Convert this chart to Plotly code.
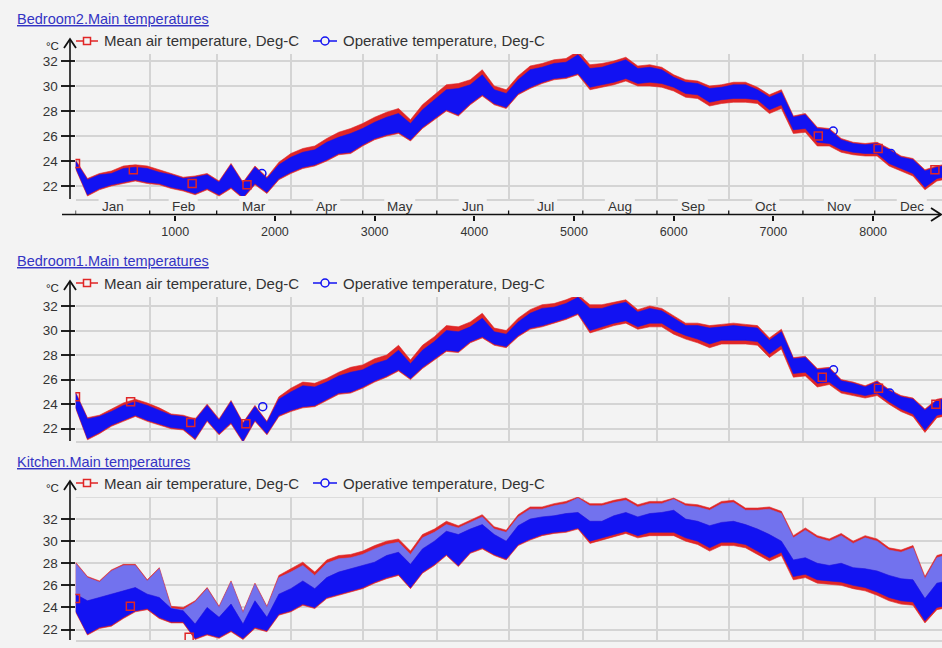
import plotly.graph_objects as go

# ---------------------------------------------------------------------------
# Hourly simulation results, summarised every 120 h as the envelope of the
# daily swing (upper / lower values) for each zone.
# ---------------------------------------------------------------------------
HOURS = list(range(0, 8761, 120))

MONTHS = ["Jan", "Feb", "Mar", "Apr", "May", "Jun",
          "Jul", "Aug", "Sep", "Oct", "Nov", "Dec"]
MONTH_START = [0, 744, 1416, 2160, 2880, 3624, 4344, 5088, 5832, 6552, 7296, 8016]
MONTH_MID = [372, 1080, 1788, 2520, 3252, 3984, 4716, 5460, 6192, 6924, 7656, 8388]
HOUR_TICKS = [1000, 2000, 3000, 4000, 5000, 6000, 7000, 8000]

# Bedroom2
b2_op_hi = [24.0, 22.5, 22.9, 23.0, 23.4, 23.5, 23.4, 23.1, 22.9, 22.6,
            22.7, 22.9, 22.3, 23.7, 22.2, 23.5, 22.6, 23.7, 24.3, 24.7,
            24.9, 25.5, 25.9, 26.2, 26.6, 27.1, 27.5, 27.8, 27.0, 28.1,
            28.9, 29.7, 29.8, 30.1, 30.9, 29.7, 29.4, 30.5, 31.3, 31.5,
            31.8, 31.9, 32.5, 31.4, 31.5, 31.8, 32.1, 31.4, 31.5, 31.3,
            30.7, 30.3, 30.2, 29.8, 29.9, 30.1, 30.1, 29.7, 29.1, 29.5,
            27.5, 27.7, 26.6, 26.5, 25.7, 25.4, 25.3, 25.4, 24.9, 24.3,
            24.1, 23.2, 23.5, 23.7]
b2_op_lo = [23.5, 21.3, 21.8, 22.1, 22.3, 22.5, 22.3, 22.2, 21.9, 21.7,
            21.4, 21.8, 21.3, 21.9, 21.1, 22.2, 21.5, 22.6, 23.1, 23.5,
            23.7, 24.1, 24.6, 24.7, 25.3, 25.8, 26.1, 26.3, 25.7, 26.7,
            27.4, 28.1, 27.7, 28.6, 29.3, 28.6, 28.3, 29.4, 29.9, 30.3,
            30.6, 30.7, 31.0, 29.9, 30.1, 30.3, 30.6, 30.2, 30.3, 30.2,
            29.9, 29.4, 29.3, 28.7, 28.9, 29.0, 29.0, 28.9, 28.1, 28.5,
            26.5, 26.6, 25.5, 25.4, 24.9, 24.7, 24.6, 24.6, 23.8, 23.4,
            23.0, 21.9, 22.6, 22.8]
b2_air_hi = [24.1, 22.6, 23.0, 23.2, 23.6, 23.7, 23.6, 23.3, 23.0, 22.7,
             22.8, 23.0, 22.4, 23.8, 22.3, 23.6, 22.7, 23.9, 24.6, 25.0,
             25.2, 25.8, 26.3, 26.6, 27.0, 27.5, 27.9, 28.2, 27.3, 28.5,
             29.3, 30.1, 30.2, 30.5, 31.3, 30.0, 29.7, 30.8, 31.6, 31.8,
             32.1, 32.2, 32.8, 31.7, 31.8, 32.0, 32.3, 31.6, 31.7, 31.5,
             30.9, 30.5, 30.4, 30.0, 30.1, 30.3, 30.3, 29.9, 29.3, 29.7,
             27.6, 27.8, 26.7, 26.6, 25.8, 25.5, 25.4, 25.5, 25.0, 24.4,
             24.2, 23.3, 23.6, 23.8]
b2_air_lo = [23.4, 21.2, 21.7, 22.0, 22.2, 22.4, 22.2, 22.1, 21.8, 21.6,
             21.3, 21.7, 21.2, 21.8, 21.0, 22.1, 21.4, 22.5, 23.0, 23.4,
             23.6, 24.0, 24.5, 24.6, 25.2, 25.7, 26.0, 26.2, 25.6, 26.6,
             27.3, 28.0, 27.6, 28.5, 29.2, 28.5, 28.2, 29.3, 29.8, 30.2,
             30.5, 30.6, 30.9, 29.7, 29.9, 30.1, 30.4, 30.0, 30.0, 29.9,
             29.6, 29.1, 29.0, 28.4, 28.6, 28.7, 28.7, 28.6, 27.8, 28.2,
             26.2, 26.3, 25.2, 25.2, 24.7, 24.5, 24.4, 24.4, 23.6, 23.2,
             22.8, 21.7, 22.4, 22.6]

# Bedroom1
b1_op_hi = [24.9, 22.8, 23.0, 23.4, 23.9, 24.2, 23.9, 23.5, 23.1, 23.0,
            22.7, 23.9, 22.7, 24.2, 22.4, 23.8, 22.5, 24.4, 25.0, 25.5,
            25.4, 25.8, 26.3, 26.6, 26.8, 27.3, 27.6, 28.4, 27.3, 28.4,
            29.1, 30.0, 29.9, 30.3, 31.0, 29.9, 29.7, 30.7, 31.4, 31.8,
            31.9, 32.2, 32.7, 31.8, 31.8, 32.1, 32.3, 31.5, 31.8, 31.6,
            31.0, 30.4, 30.4, 30.2, 30.3, 30.4, 30.3, 30.2, 29.2, 29.9,
            27.7, 27.8, 26.8, 26.9, 25.9, 25.7, 25.4, 25.8, 25.1, 24.6,
            24.4, 23.5, 24.3, 24.5]
b1_op_lo = [23.8, 21.2, 21.7, 22.3, 22.7, 23.1, 22.7, 22.4, 22.1, 22.0,
            21.2, 22.7, 21.6, 22.5, 21.0, 22.7, 21.6, 23.1, 23.5, 23.8,
            23.9, 24.4, 24.9, 25.0, 25.4, 25.9, 26.3, 26.8, 26.1, 27.0,
            27.7, 28.4, 28.3, 29.1, 29.5, 28.9, 28.7, 29.6, 30.2, 30.4,
            30.7, 31.0, 31.4, 30.0, 30.3, 30.6, 30.8, 30.3, 30.6, 30.6,
            30.0, 29.6, 29.3, 28.9, 29.2, 29.2, 29.2, 29.1, 28.1, 28.8,
            26.5, 26.6, 25.7, 25.8, 25.1, 24.9, 24.7, 24.9, 24.2, 23.6,
            23.2, 21.9, 23.1, 23.3]
b1_air_hi = [25.0, 22.9, 23.1, 23.6, 24.1, 24.4, 24.1, 23.7, 23.2, 23.1,
             22.8, 24.0, 22.8, 24.3, 22.5, 23.9, 22.6, 24.6, 25.3, 25.8,
             25.7, 26.1, 26.6, 27.0, 27.2, 27.7, 28.0, 28.8, 27.6, 28.8,
             29.5, 30.4, 30.3, 30.7, 31.4, 30.2, 30.0, 31.0, 31.7, 32.1,
             32.2, 32.5, 32.9, 32.1, 32.1, 32.3, 32.5, 31.7, 32.0, 31.8,
             31.2, 30.6, 30.6, 30.4, 30.5, 30.6, 30.5, 30.4, 29.4, 30.1,
             27.8, 27.9, 26.9, 27.0, 26.0, 25.8, 25.5, 25.9, 25.2, 24.7,
             24.5, 23.6, 24.4, 24.6]
b1_air_lo = [23.7, 21.1, 21.6, 22.2, 22.6, 23.0, 22.6, 22.3, 22.0, 21.9,
             21.1, 22.6, 21.5, 22.4, 20.9, 22.6, 21.5, 23.0, 23.4, 23.7,
             23.8, 24.3, 24.8, 24.9, 25.3, 25.8, 26.2, 26.7, 26.0, 26.9,
             27.6, 28.3, 28.2, 29.0, 29.4, 28.8, 28.6, 29.5, 30.1, 30.3,
             30.6, 30.9, 31.3, 29.8, 30.1, 30.4, 30.6, 30.1, 30.3, 30.3,
             29.7, 29.3, 29.0, 28.6, 28.9, 28.9, 28.9, 28.8, 27.8, 28.5,
             26.2, 26.3, 25.4, 25.6, 24.9, 24.7, 24.5, 24.7, 24.0, 23.4,
             23.0, 21.7, 22.9, 23.1]

# Kitchen (large daily peaks: op_peak is the top of the daily spikes)
k_op_peak = [28.0, 26.7, 26.3, 27.3, 27.8, 27.8, 26.4, 27.5, 23.9, 23.8,
             24.5, 25.7, 24.0, 26.3, 23.5, 26.1, 24.0, 26.7, 27.2, 27.8,
             26.9, 28.0, 28.4, 28.5, 28.8, 29.3, 29.7, 29.9, 28.8, 30.3,
             30.8, 31.5, 31.2, 31.7, 32.2, 31.1, 30.8, 32.2, 32.9, 32.9,
             33.2, 33.4, 33.9, 33.2, 33.2, 33.5, 33.7, 33.1, 33.4, 33.4,
             33.8, 33.2, 33.1, 32.8, 33.4, 33.5, 32.8, 32.8, 32.9, 32.5,
             30.3, 31.0, 30.3, 30.0, 30.5, 29.8, 30.3, 30.0, 29.2, 29.0,
             29.4, 26.6, 28.5, 28.8]
k_op_hi = [25.2, 24.6, 24.9, 25.2, 25.5, 25.8, 25.2, 24.9, 23.9, 23.7,
           22.5, 24.0, 23.1, 24.3, 22.5, 24.6, 23.1, 25.2, 25.7, 26.4,
           25.7, 26.7, 27.2, 27.5, 27.8, 28.1, 28.7, 29.0, 27.9, 29.3,
           30.0, 30.9, 30.6, 31.1, 31.5, 30.6, 30.0, 31.4, 32.0, 32.2,
           32.3, 32.5, 32.6, 31.8, 31.8, 32.3, 32.6, 32.2, 32.5, 32.6,
           32.8, 32.0, 31.8, 31.4, 31.7, 31.8, 31.5, 31.1, 30.6, 30.0,
           28.3, 28.5, 28.0, 27.8, 28.0, 27.6, 27.5, 27.3, 26.9, 26.6,
           26.5, 24.8, 26.2, 26.4]
k_op_lo = [23.7, 21.6, 22.2, 22.4, 23.1, 23.7, 23.9, 23.1, 22.7, 22.7,
           21.2, 21.6, 21.3, 21.9, 21.2, 22.2, 21.9, 23.4, 23.7, 24.3,
           24.0, 24.9, 25.2, 25.5, 25.8, 26.3, 26.7, 27.0, 25.8, 27.2,
           27.9, 28.8, 27.8, 29.0, 29.4, 28.8, 28.4, 29.7, 30.2, 30.6,
           30.8, 30.9, 31.2, 30.0, 30.3, 30.6, 30.9, 30.5, 30.8, 30.8,
           30.8, 30.3, 30.0, 29.4, 29.9, 29.9, 29.7, 29.1, 28.5, 29.0,
           26.8, 27.0, 26.5, 26.4, 26.3, 26.0, 25.8, 25.4, 24.9, 24.6,
           24.5, 22.8, 24.0, 24.2]
k_air_hi = [28.1, 26.8, 26.4, 27.4, 27.9, 27.9, 26.5, 27.6, 24.1, 24.0,
            24.6, 25.8, 24.1, 26.4, 23.6, 26.2, 24.1, 26.9, 27.5, 28.1,
            27.2, 28.3, 28.7, 28.8, 29.1, 29.6, 30.0, 30.2, 29.1, 30.6,
            31.1, 31.8, 31.4, 31.9, 32.4, 31.3, 31.0, 32.4, 33.1, 33.1,
            33.4, 33.6, 34.0, 33.4, 33.4, 33.7, 33.9, 33.3, 33.6, 33.6,
            33.9, 33.4, 33.3, 33.0, 33.6, 33.7, 33.0, 33.0, 33.1, 32.7,
            30.5, 31.2, 30.5, 30.2, 30.7, 30.0, 30.5, 30.2, 29.4, 29.2,
            29.6, 26.8, 28.7, 29.0]
k_air_lo = [23.6, 21.5, 22.1, 22.3, 23.0, 23.6, 23.8, 23.0, 22.6, 22.6,
            21.1, 21.5, 21.2, 21.8, 21.1, 22.1, 21.8, 23.3, 23.6, 24.2,
            23.9, 24.8, 25.1, 25.4, 25.7, 26.2, 26.6, 26.9, 25.7, 27.1,
            27.8, 28.7, 27.7, 28.9, 29.3, 28.7, 28.3, 29.6, 30.1, 30.5,
            30.7, 30.8, 31.1, 29.8, 30.1, 30.4, 30.7, 30.3, 30.5, 30.5,
            30.5, 30.0, 29.7, 29.1, 29.6, 29.6, 29.4, 28.8, 28.2, 28.7,
            26.5, 26.7, 26.2, 26.1, 26.0, 25.7, 25.5, 25.1, 24.6, 24.3,
            24.2, 22.6, 23.8, 24.0]

# Individual series markers (hour, value)
b2_sq_h = [0, 580, 1170, 1720, 7450, 8050, 8620]
b2_sq_t = [23.8, 23.3, 22.2, 22.1, 26.0, 25.0, 23.3]
b2_ci_h = [1870, 7600, 8180]
b2_ci_t = [23.0, 26.4, 24.6]
b1_sq_h = [0, 553, 1156, 1709, 7490, 8054, 8630]
b1_sq_t = [24.6, 24.2, 22.5, 22.4, 26.2, 25.3, 24.0]
b1_ci_h = [1878, 7603, 8167]
b1_ci_t = [23.8, 26.8, 24.9]
k_sq_h = [0, 550, 1140]
k_sq_t = [24.8, 24.1, 21.3]
k_ci_h = []
k_ci_t = []

TITLES = ["Bedroom2.Main temperatures", "Bedroom1.Main temperatures",
          "Kitchen.Main temperatures"]
LEG_AIR = "Mean air temperature, Deg-C"
LEG_OP = "Operative temperature, Deg-C"

# ---------------------------------------------------------------------------
W, H = 942, 648
BG = "#f3f3f3"
GRID = "#d4d4d4"
RED = "#e02626"
BLUE = "#1212f2"
PEAK = "#7272ee"
TXT = "#333333"
FONT = "Liberation Sans, Arial, sans-serif"
XMAX = 8691
X_LEFT = 75.5


def px(x):
    return x / W


def py(y):
    return 1 - y / H


# per panel: title y, legend y, arrow apex y, plot top, plot bottom, y-range
PANELS = [
    dict(title=19, leg=41, apex=39, top=54, bot=199, rng=[20.96, 32.56]),
    dict(title=261, leg=283, apex=281, top=297, bot=441, rng=[21.0, 32.73]),
    dict(title=462, leg=483, apex=481, top=497, bot=640, rng=[21.05, 34.0]),
]

fig = go.Figure()


def band(xa, ya, lo, hi, color):
    fig.add_trace(go.Scatter(x=HOURS, y=lo, xaxis=xa, yaxis=ya, mode="lines",
                             line=dict(color=color, width=0.6),
                             hoverinfo="skip", showlegend=False))
    fig.add_trace(go.Scatter(x=HOURS, y=hi, xaxis=xa, yaxis=ya, mode="lines",
                             line=dict(color=color, width=0.6), fill="tonexty",
                             fillcolor=color, hoverinfo="skip", showlegend=False))


def markers(xa, ya, sh, st, ch, ct):
    if sh:
        fig.add_trace(go.Scatter(x=sh, y=st, xaxis=xa, yaxis=ya, mode="markers",
                                 marker=dict(symbol="square-open", size=8, color=RED,
                                             line=dict(width=1.5, color=RED)),
                                 hoverinfo="skip", showlegend=False))
    if ch:
        fig.add_trace(go.Scatter(x=ch, y=ct, xaxis=xa, yaxis=ya, mode="markers",
                                 marker=dict(symbol="circle-open", size=8, color=BLUE,
                                             line=dict(width=1.5, color=BLUE)),
                                 hoverinfo="skip", showlegend=False))


# Bedroom2
band("x", "y", b2_air_lo, b2_air_hi, RED)
band("x", "y", b2_op_lo, b2_op_hi, BLUE)
markers("x", "y", b2_sq_h, b2_sq_t, b2_ci_h, b2_ci_t)
# Bedroom1
band("x2", "y2", b1_air_lo, b1_air_hi, RED)
band("x2", "y2", b1_op_lo, b1_op_hi, BLUE)
markers("x2", "y2", b1_sq_h, b1_sq_t, b1_ci_h, b1_ci_t)
# Kitchen
band("x3", "y3", k_air_lo, k_air_hi, RED)
band("x3", "y3", k_op_hi, k_op_peak, PEAK)
band("x3", "y3", k_op_lo, k_op_hi, BLUE)
markers("x3", "y3", k_sq_h, k_sq_t, k_ci_h, k_ci_t)

# carrier for the hour axis of the top panel
fig.add_trace(go.Scatter(x=[None], y=[None], xaxis="x4", yaxis="y",
                         showlegend=False, hoverinfo="skip"))

layout = dict(
    width=W, height=H, margin=dict(l=0, r=0, t=0, b=0),
    paper_bgcolor=BG, plot_bgcolor=BG, showlegend=False,
    font=dict(family=FONT, size=13, color=TXT),
)

for i, p in enumerate(PANELS):
    sfx = "" if i == 0 else str(i + 1)
    layout["xaxis" + sfx] = dict(
        domain=[px(X_LEFT), 1], range=[0, XMAX], anchor="y" + sfx,
        tickmode="array", tickvals=MONTH_START, showticklabels=False, ticks="",
        showgrid=True, gridcolor=GRID, gridwidth=1.5, zeroline=False,
        showline=True, linecolor=GRID, linewidth=1.5,
    )
    layout["yaxis" + sfx] = dict(
        domain=[py(p["bot"]), py(p["top"])], range=p["rng"], anchor="x" + sfx,
        tickmode="array", tickvals=[22, 24, 26, 28, 30, 32],
        ticks="outside", ticklen=14, tickwidth=1.5, tickcolor="#222222",
        tickfont=dict(size=13.5, color=TXT),
        showgrid=True, gridcolor=GRID, gridwidth=1.5, zeroline=False,
        showline=False,
    )

layout["xaxis4"] = dict(
    overlaying="x", anchor="free", position=py(214.5), range=[0, XMAX],
    tickmode="array", tickvals=HOUR_TICKS, ticks="outside", ticklen=5,
    tickwidth=1.5, tickcolor="#111111", tickfont=dict(size=12.5, color=TXT),
    showgrid=False, zeroline=False, showline=False,
)

shapes = []
annotations = []

# kitchen top gridline
shapes.append(dict(type="line", xref="x3", yref="y3", x0=0, x1=XMAX, y0=34, y1=34,
                   line=dict(color=GRID, width=1.5), layer="below"))

# month band of the top panel: gaps in the frame line behind the labels
MONTH_W = [22, 23, 23, 21, 25, 22, 17, 24, 24, 21, 24, 24]
for m, mid, w in zip(MONTHS, MONTH_MID, MONTH_W):
    shapes.append(dict(type="rect", xref="x", yref="paper", xsizemode="pixel",
                       xanchor=mid, x0=-w / 2 - 3, x1=w / 2 + 3,
                       y0=py(202), y1=py(196), fillcolor=BG,
                       line=dict(width=0), layer="above"))
    annotations.append(dict(text=m, xref="x", yref="paper", x=mid, y=py(207),
                            showarrow=False, font=dict(size=13.5, color=TXT),
                            xanchor="center", yanchor="middle"))
for b in MONTH_START:
    shapes.append(dict(type="line", xref="x", yref="paper", x0=b, x1=b,
                       y0=py(214.5), y1=py(210.5),
                       line=dict(color="#111111", width=1.3)))

# hour axis line with arrow
shapes.append(dict(type="line", xref="paper", yref="paper", x0=px(62), x1=px(940),
                   y0=py(214.5), y1=py(214.5), line=dict(color="#111111", width=1.6)))
shapes.append(dict(type="path", xref="paper", yref="paper",
                   path=f"M {px(931)},{py(208)} L {px(941)},{py(214.5)} L {px(931)},{py(221)}",
                   line=dict(color="#111111", width=1.8)))

for i, p in enumerate(PANELS):
    # value axis with arrow
    shapes.append(dict(type="line", xref="paper", yref="paper", x0=px(70), x1=px(70),
                       y0=py(p["apex"] + 1), y1=py(p["bot"]),
                       line=dict(color="#111111", width=1.6)))
    shapes.append(dict(type="path", xref="paper", yref="paper",
                       path=f"M {px(64)},{py(p['apex'] + 9)} L {px(70)},{py(p['apex'])} "
                            f"L {px(76)},{py(p['apex'] + 9)}",
                       line=dict(color="#111111", width=1.8)))
    annotations.append(dict(text="°C", xref="paper", yref="paper", x=px(52),
                            y=py(p["apex"] + 7), showarrow=False,
                            font=dict(size=11.5, color="#222222"),
                            xanchor="center", yanchor="middle"))
    # title
    annotations.append(dict(text=f"<u>{TITLES[i]}</u>", xref="paper", yref="paper",
                            x=px(15), y=py(p["title"]), showarrow=False,
                            font=dict(size=14.5, color="#3434c4"),
                            xanchor="left", yanchor="middle"))
    # legend
    ly = p["leg"]
    shapes.append(dict(type="line", xref="paper", yref="paper", x0=px(76), x1=px(98),
                       y0=py(ly), y1=py(ly), line=dict(color=RED, width=1.5)))
    shapes.append(dict(type="rect", xref="paper", yref="paper", x0=px(83.5), x1=px(90.5),
                       y0=py(ly + 3.5), y1=py(ly - 3.5), fillcolor=BG,
                       line=dict(color=RED, width=1.5)))
    annotations.append(dict(text=LEG_AIR, xref="paper", yref="paper", x=px(102),
                            y=py(ly), showarrow=False, font=dict(size=15, color=TXT),
                            xanchor="left", yanchor="middle"))
    shapes.append(dict(type="line", xref="paper", yref="paper", x0=px(313), x1=px(337),
                       y0=py(ly), y1=py(ly), line=dict(color=BLUE, width=1.5)))
    shapes.append(dict(type="circle", xref="paper", yref="paper", x0=px(321), x1=px(329),
                       y0=py(ly + 4), y1=py(ly - 4), fillcolor=BG,
                       line=dict(color=BLUE, width=1.5)))
    annotations.append(dict(text=LEG_OP, xref="paper", yref="paper", x=px(341),
                            y=py(ly), showarrow=False, font=dict(size=15, color=TXT),
                            xanchor="left", yanchor="middle"))

layout["shapes"] = shapes
layout["annotations"] = annotations
fig.update_layout(**layout)

fig.write_html("out.html")
